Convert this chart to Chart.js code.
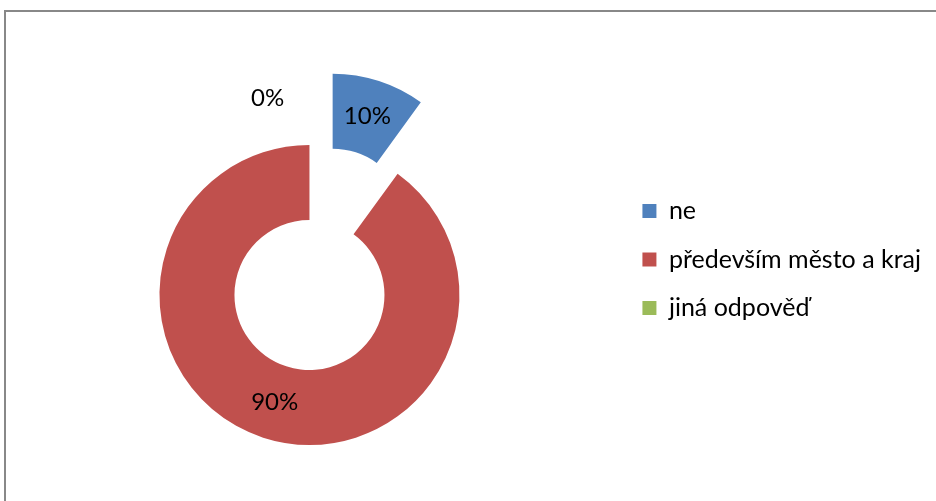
<!DOCTYPE html>
<html>
<head>
<meta charset="utf-8">
<script src="https://cdn.jsdelivr.net/npm/chart.js@4.4.0/dist/chart.umd.min.js"></script>
<style>
  html, body { margin: 0; padding: 0; background: #fff; overflow: hidden; }
  #frame { position: absolute; left: 4px; top: 10px; width: 1000px; height: 600px; border: 2px solid #888; }
  #wrap { position: absolute; left: 0; top: 0; width: 936px; height: 501px; }
</style>
</head>
<body>
<div id="frame"></div>
<div id="wrap"><canvas id="pieChart"></canvas></div>
<script>
'use strict';

const labels = ['ne', 'především město a kraj', 'jiná odpověď'];
const values = [10, 90, 0];
const colors = ['#4F81BD', '#C0504D', '#9BBB59'];
// how far each slice is pulled out, as a share of the outer radius
const explode = [0.5, 0, 0];

// move exploded slices outwards along their middle angle
const explodePlugin = {
  id: 'explode',
  afterDatasetsUpdate(chart) {
    chart.getDatasetMeta(0).data.forEach((arc, i) => {
      const d = arc.outerRadius * (explode[i] || 0);
      const mid = (arc.startAngle + arc.endAngle) / 2;
      arc.x += Math.cos(mid) * d;
      arc.y += Math.sin(mid) * d;
    });
  }
};

// percentage labels, empty slices get theirs just outside the ring
const pctLabels = {
  id: 'pctLabels',
  afterDatasetsDraw(chart) {
    const ctx = chart.ctx;
    const total = values.reduce((a, b) => a + b, 0);
    ctx.save();
    ctx.font = '24px Lato';
    ctx.fillStyle = '#000';
    ctx.textAlign = 'center';
    ctx.textBaseline = 'middle';
    chart.getDatasetMeta(0).data.forEach((arc, i) => {
      const pct = Math.round(values[i] / total * 100) + '%';
      let mid = (arc.startAngle + arc.endAngle) / 2;
      let r = (arc.innerRadius + arc.outerRadius) / 2;
      if (values[i] === 0) {
        r = arc.outerRadius * 1.34;
        mid -= 0.21;
      }
      ctx.fillText(pct, arc.x + Math.cos(mid) * r, arc.y + Math.sin(mid) * r);
    });
    ctx.restore();
  }
};

Chart.defaults.font.family = 'Lato';

new Chart(document.getElementById('pieChart'), {
  type: 'doughnut',
  data: {
    labels: labels,
    datasets: [{
      data: values,
      backgroundColor: colors,
      borderWidth: 0,
      radius: 150,
      cutout: '50%',
      clip: false
    }]
  },
  options: {
    responsive: true,
    maintainAspectRatio: false,
    animation: false,
    layout: {
      padding: { left: -10, right: 5, top: 175, bottom: 86 }
    },
    plugins: {
      legend: {
        position: 'right',
        align: 'start',
        labels: {
          boxWidth: 14,
          boxHeight: 14,
          padding: 23.5,
          color: '#000',
          font: { family: 'Lato', size: 25 }
        }
      },
      tooltip: { enabled: false }
    }
  },
  plugins: [explodePlugin, pctLabels]
});
</script>
</body>
</html>
